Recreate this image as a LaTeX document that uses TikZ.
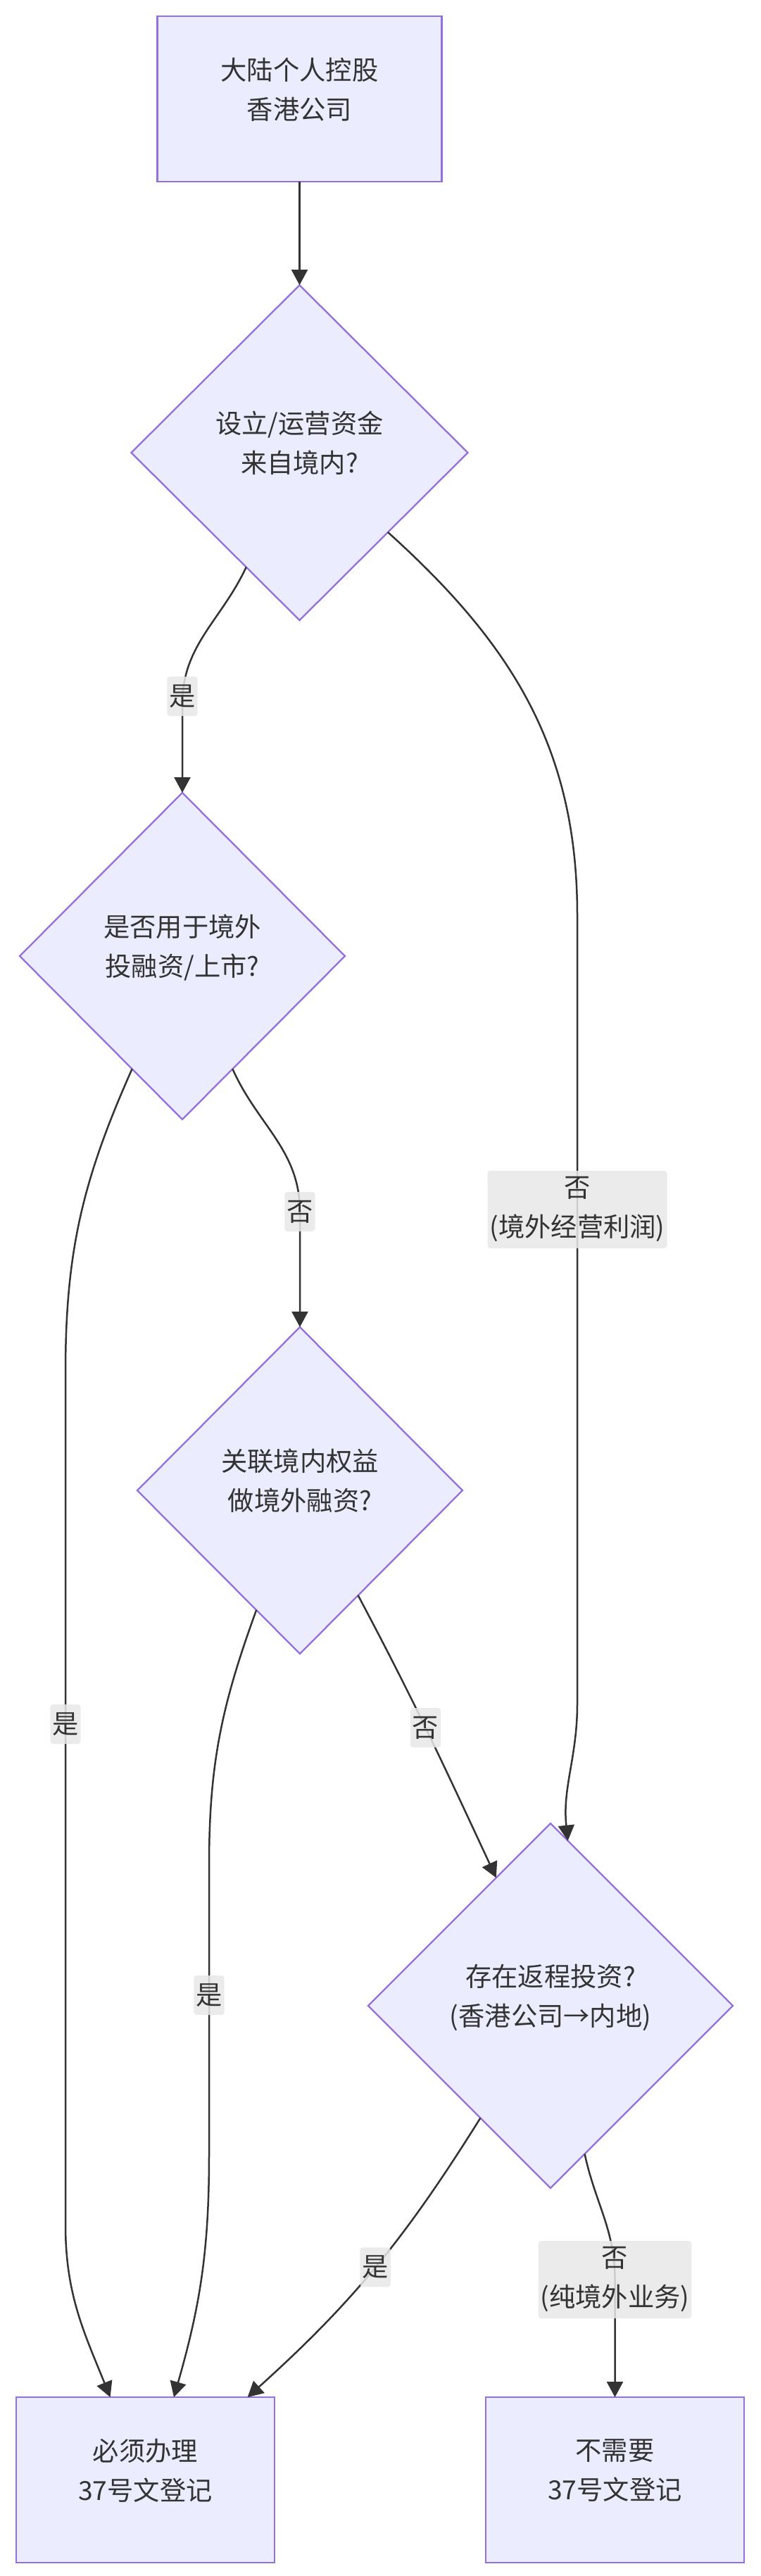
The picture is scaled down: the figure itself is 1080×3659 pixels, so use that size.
\documentclass[tikz,border=0pt]{standalone}
\usepackage{fontspec}
\setmainfont{Noto Sans CJK SC}
\usetikzlibrary{shapes.geometric,arrows.meta,calc}
\definecolor{nfill}{HTML}{ECECFF}
\definecolor{nstroke}{HTML}{9370DB}
\definecolor{ink}{HTML}{333333}
\definecolor{lblbg}{HTML}{E8E8E8}
\tikzset{
  base/.style={draw=nstroke, fill=nfill, line width=2.3pt, align=center, text=ink,
    inner sep=0pt, outer sep=0pt, font=\fontsize{37.3pt}{56pt}\selectfont, text depth=30pt},
  proc/.style={base, rectangle},
  dec/.style={base, diamond, aspect=1},
  lbl/.style={fill=lblbg, fill opacity=0.85, text opacity=1, text=ink, rounded corners=4pt,
    align=center, inner xsep=3pt, inner ysep=0pt, minimum height=56pt,
    font=\fontsize{37.3pt}{56pt}\selectfont},
  conn/.style={draw=ink, line width=2.5pt, -{Triangle[length=22pt,width=23pt]}},
}
\begin{document}
\begin{tikzpicture}[x=1pt,y=1pt]
\fill[white] (0,0) rectangle (1080,-3659);
\useasboundingbox (0,0) rectangle (1080,-3659);

% nodes
\node[proc, minimum width=404pt, minimum height=235pt] (start) at (425.5,-140.5) {大陆个人控股\\香港公司};
\node[dec, minimum width=478pt, minimum height=476pt] (d1) at (425.5,-643) {设立/运营资金\\来自境内?};
\node[dec, minimum width=462pt, minimum height=464pt] (d2) at (259,-1358) {是否用于境外\\投融资/上市?};
\node[dec, minimum width=462pt, minimum height=464pt] (d3) at (426,-2117) {关联境内权益\\做境外融资?};
\node[dec, minimum width=518pt, minimum height=518pt] (d4) at (782,-2849) {存在返程投资?\\(香港公司→内地)};
\node[proc, minimum width=367pt, minimum height=235pt] (bl) at (206.5,-3522.5) {必须办理\\37号文登记};
\node[proc, minimum width=367pt, minimum height=235pt] (br) at (873.5,-3522.5) {不需要\\37号文登记};

% route points
\coordinate (e2a) at (259,-1000);
\coordinate (e3a) at (820,-1300);
\coordinate (e3b) at (820,-2420);
\coordinate (e4a) at (93,-1950);
\coordinate (e4b) at (93,-3160);
\coordinate (e5a) at (426,-1721);
\coordinate (e6a) at (297,-2650);
\coordinate (e6b) at (297,-3060);
\coordinate (e9a) at (873.5,-3238);

% connectors
\draw[conn] (start.south) -- (d1.north);
\draw[conn] (d1.-115.7) to[out=-115,in=90] (e2a) -- (d2.north);
\draw[conn] (d1.-42) to[out=-42,in=90] (e3a) -- (e3b) to[out=-90,in=96] (d4.84);
\draw[conn] (d2.-114) to[out=-114,in=90] (e4a) -- (e4b) to[out=-90,in=112] (bl.113.7);
\draw[conn] (d2.-66.6) to[out=-66,in=90] (e5a) -- (d3.north);
\draw[conn] (d3.-110.6) to[out=-110,in=90] (e6a) -- (e6b) to[out=-90,in=74] (bl.71);
\draw[conn] (d3.-61.8) to[out=-62,in=115] coordinate[pos=0.47] (e7m) (d4.113.6);
\draw[conn] (d4.-122) to[out=-122,in=42] coordinate[pos=0.5] (e8m) (bl.39.3);
\draw[conn] (d4.-77.5) to[out=-78,in=90] (e9a) -- (br.north);

% edge labels
\node[lbl] (l2) at (259,-989) {是};
\node[lbl, minimum height=110pt] (l3) at (820,-1718) {否\\(境外经营利润)};
\node[lbl] (l4) at (93,-2449) {是};
\node[lbl] (l5) at (426,-1721) {否};
\node[lbl] (l6) at (297,-2834) {是};
\node[lbl] (l7) at (e7m) {否};
\node[lbl] (l8) at (e8m) {是};
\node[lbl, minimum height=110pt] (l9) at (e9a) {否\\(纯境外业务)};
\end{tikzpicture}
\end{document}
